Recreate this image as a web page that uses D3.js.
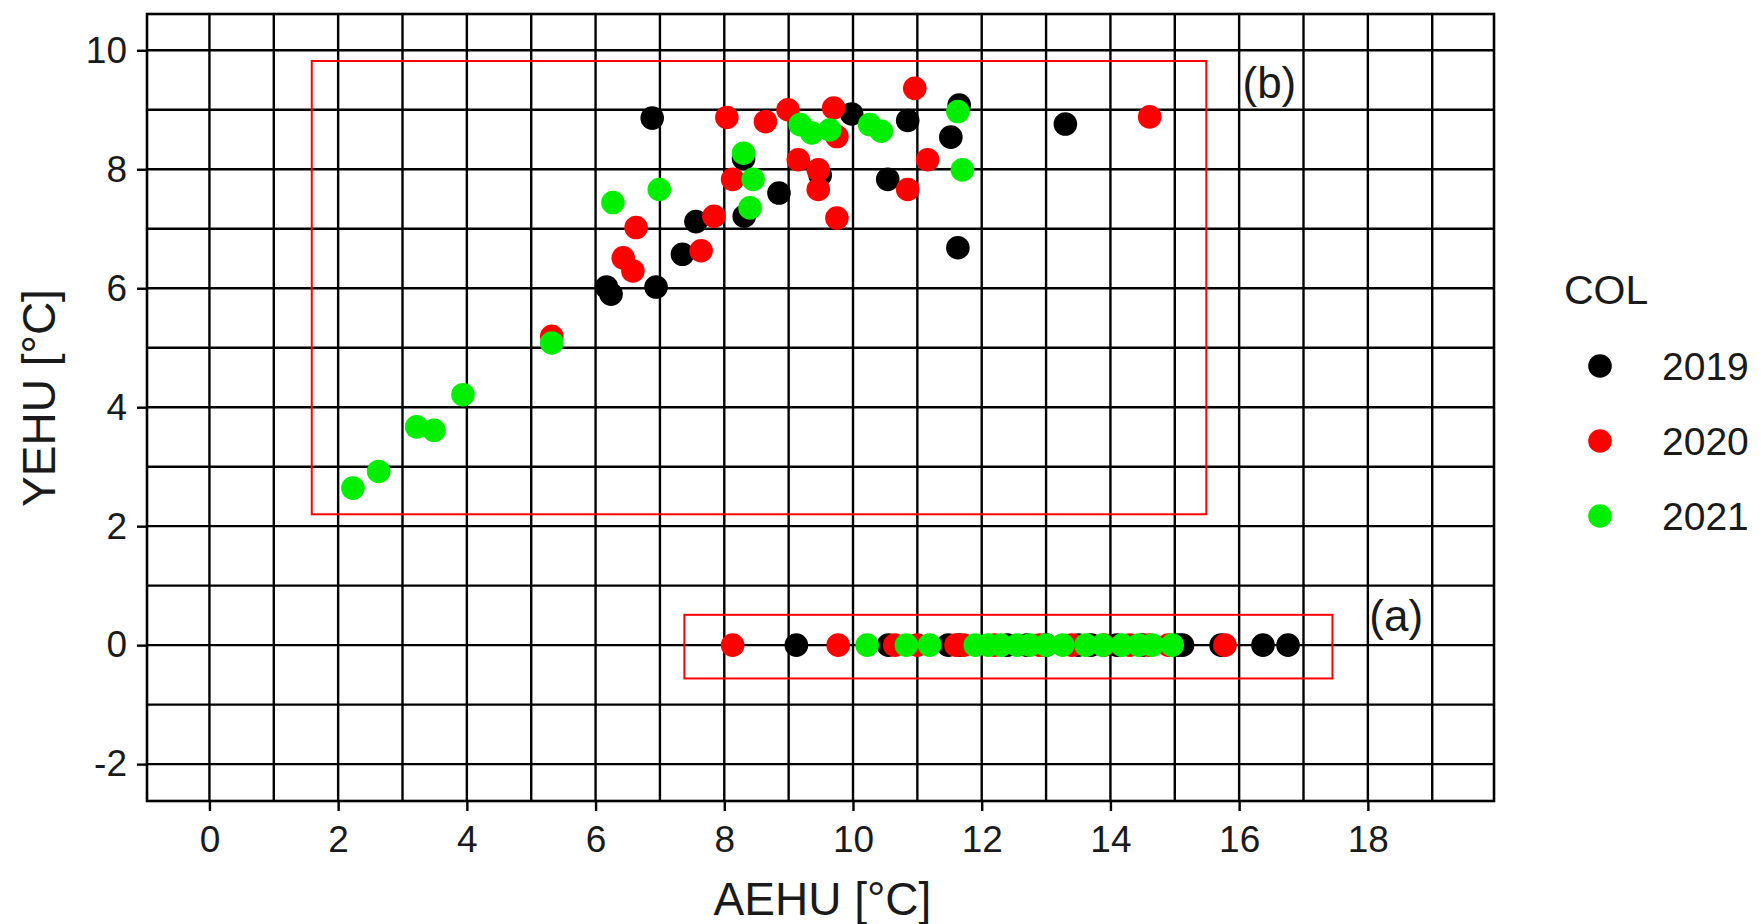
<!DOCTYPE html>
<html>
<head>
<meta charset="utf-8">
<script src="https://cdn.jsdelivr.net/npm/d3@7"></script>
<style>
  body { margin: 0; background: #fff; }
  text { font-family: "Liberation Sans", Arial, sans-serif; fill: #1a1a1a; }
</style>
</head>
<body>
<div id="chart"></div>
<script>
/**
 * DATA
 * */
const years = ["2019", "2020", "2021"];
const yearColors = ["#000000", "#ff0000", "#00ee00"];

// 2019
const aehu2019 = [6.88, 6.17, 6.24, 6.94, 7.35, 7.56, 8.30, 8.31, 8.85, 9.49, 9.98, 10.85, 10.54, 11.52, 11.65, 11.63, 13.30,
  9.12, 10.55, 11.48, 11.65, 12.4, 12.7, 13.0, 13.5, 13.7, 14.1, 14.5, 15.05, 15.12, 15.72, 16.37, 16.76];
const yehu2019 = [8.86, 6.02, 5.90, 6.02, 6.57, 7.12, 8.18, 7.21, 7.60, 7.90, 8.93, 8.82, 7.83, 8.54, 9.08, 6.68, 8.76,
  0, 0, 0, 0, 0, 0, 0, 0, 0, 0, 0, 0, 0, 0, 0, 0];

// 2020
const aehu2020 = [5.32, 6.43, 6.58, 6.63, 7.64, 7.84, 8.04, 8.13, 8.64, 8.99, 9.15, 9.46, 9.46, 9.70, 9.75, 9.75, 10.85, 10.96, 11.16, 14.61,
  8.13, 9.77, 10.65, 11.0, 11.6, 11.72, 12.2, 12.9, 13.4, 13.9, 14.3, 14.6, 14.9, 15.78];
const yehu2020 = [5.19, 6.51, 6.29, 7.02, 6.63, 7.21, 8.87, 7.83, 8.80, 9.00, 8.16, 7.99, 7.66, 9.03, 8.55, 7.18, 7.66, 9.36, 8.16, 8.88,
  0, 0, 0, 0, 0, 0, 0, 0, 0, 0, 0, 0, 0, 0];

// 2021
const aehu2021 = [2.23, 2.63, 3.22, 3.49, 3.94, 5.32, 6.27, 6.99, 8.30, 8.45, 8.40, 9.18, 9.36, 9.64, 10.26, 10.44, 11.63, 11.70,
  10.22, 10.83, 11.19, 11.9, 12.1, 12.3, 12.55, 12.75, 13.0, 13.26, 13.62, 13.88, 14.18, 14.44, 14.65, 14.96];
const yehu2021 = [2.64, 2.92, 3.67, 3.61, 4.21, 5.08, 7.44, 7.66, 8.27, 7.83, 7.35, 8.75, 8.61, 8.66, 8.75, 8.64, 8.97, 7.99,
  0, 0, 0, 0, 0, 0, 0, 0, 0, 0, 0, 0, 0, 0, 0, 0];

// highlighted boxes [x0, x1, y0, y1] and their labels
const boxNames = ["(a)", "(b)"];
const boxExtents = [[7.38, 17.45, -0.56, 0.51], [1.59, 15.49, 2.2, 9.82]];
const boxLabelAt = [[18.44, 0.49], [16.47, 9.45]];

const xTicks = [0, 2, 4, 6, 8, 10, 12, 14, 16, 18];
const xMinor = [1, 3, 5, 7, 9, 11, 13, 15, 17, 19];
const yTicks = [-2, 0, 2, 4, 6, 8, 10];
const yMinor = [-1, 1, 3, 5, 7, 9];

/**
 * LAYOUT
 * */
const width = 1761, height = 924;
const panel = { left: 147, right: 1494, top: 14, bottom: 801 };

const svg = d3.select("#chart").append("svg")
  .attr("width", width)
  .attr("height", height);

const x = d3.scaleLinear().domain([-0.97, 19.96]).range([panel.left, panel.right]);
const y = d3.scaleLinear().domain([-2.62, 10.61]).range([panel.bottom, panel.top]);

// grid (major + minor, all black)
const grid = svg.append("g").attr("stroke", "#000").attr("stroke-width", 2.4);
grid.selectAll("line.v")
  .data(xTicks.concat(xMinor))
  .join("line")
  .attr("class", "v")
  .attr("x1", d => x(d)).attr("x2", d => x(d))
  .attr("y1", panel.top).attr("y2", panel.bottom);
grid.selectAll("line.h")
  .data(yTicks.concat(yMinor))
  .join("line")
  .attr("class", "h")
  .attr("y1", d => y(d)).attr("y2", d => y(d))
  .attr("x1", panel.left).attr("x2", panel.right);

// axes (plain hyphen for negatives, like the original)
const fmt = d => String(d);
const xAxis = svg.append("g")
  .attr("transform", `translate(0,${panel.bottom})`)
  .call(d3.axisBottom(x).tickValues(xTicks).tickSize(10).tickPadding(15).tickFormat(fmt));
const yAxis = svg.append("g")
  .attr("transform", `translate(${panel.left},0)`)
  .call(d3.axisLeft(y).tickValues(yTicks).tickSize(10).tickPadding(10).tickFormat(fmt));
[xAxis, yAxis].forEach(a => {
  a.select(".domain").remove();
  a.selectAll(".tick line").attr("stroke", "#000").attr("stroke-width", 2.4);
  a.selectAll(".tick text").attr("font-size", 37).attr("fill", "#1a1a1a")
    .style("font-family", "Liberation Sans, Arial, sans-serif");
});

// panel border
svg.append("rect")
  .attr("x", panel.left).attr("y", panel.top)
  .attr("width", panel.right - panel.left).attr("height", panel.bottom - panel.top)
  .attr("fill", "none").attr("stroke", "#000").attr("stroke-width", 2.6);

// red boxes
svg.append("g").selectAll("rect")
  .data(boxExtents)
  .join("rect")
  .attr("x", d => x(d[0])).attr("width", d => x(d[1]) - x(d[0]))
  .attr("y", d => y(d[3])).attr("height", d => y(d[2]) - y(d[3]))
  .attr("fill", "none").attr("stroke", "#ff0000").attr("stroke-width", 2);

svg.append("g").selectAll("text")
  .data(boxNames)
  .join("text")
  .attr("x", (d, i) => x(boxLabelAt[i][0]))
  .attr("y", (d, i) => y(boxLabelAt[i][1]))
  .attr("text-anchor", "middle")
  .attr("dy", "0.35em")
  .attr("font-size", 44)
  .text(d => d);

// points
const series = [
  { year: years[0], xs: aehu2019, ys: yehu2019 },
  { year: years[1], xs: aehu2020, ys: yehu2020 },
  { year: years[2], xs: aehu2021, ys: yehu2021 }
];
const color = d3.scaleOrdinal().domain(years).range(yearColors);

series.forEach(s => {
  svg.append("g").selectAll("circle")
    .data(s.xs.map((v, i) => [v, s.ys[i]]))
    .join("circle")
    .attr("cx", d => x(d[0]))
    .attr("cy", d => y(d[1]))
    .attr("r", 11.8)
    .attr("fill", color(s.year));
});

// axis titles
svg.append("text")
  .attr("x", (panel.left + panel.right) / 2 + 2)
  .attr("y", 915)
  .attr("text-anchor", "middle")
  .attr("font-size", 46)
  .text("AEHU [°C]");
svg.append("text")
  .attr("transform", `translate(55,398) rotate(-90)`)
  .attr("text-anchor", "middle")
  .attr("font-size", 46)
  .text("YEHU [°C]");

// legend
const legend = svg.append("g");
legend.append("text")
  .attr("x", 1564).attr("y", 304)
  .attr("font-size", 41)
  .text("COL");
const keys = legend.selectAll("g.key")
  .data(years)
  .join("g")
  .attr("class", "key")
  .attr("transform", (d, i) => `translate(1600,${366 + i * 75})`);
keys.append("circle").attr("r", 11.8).attr("fill", d => color(d));
keys.append("text")
  .attr("x", 62).attr("dy", "0.36em")
  .attr("font-size", 39)
  .text(d => d);
</script>
</body>
</html>
